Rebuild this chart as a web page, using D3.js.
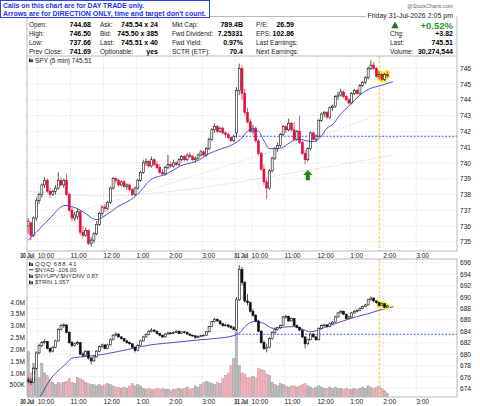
<!DOCTYPE html>
<html lang="en">
<head>
<meta charset="UTF-8">
<title>SPY 5 min</title>
<script src="https://d3js.org/d3.v7.min.js"></script>
<style>
  body { margin: 0; background: #fff; font-family: "Liberation Sans", Arial, sans-serif; }
  svg { display: block; }
  .lbl { font-size: 6.5px; fill: #222; }
  .val { font-size: 7px; font-weight: bold; fill: #000; }
  .axis text { font-size: 6.6px; fill: #222; font-family: "Liberation Sans", Arial, sans-serif; }
  .grid { stroke: #cfcfcf; stroke-width: 0.6; stroke-dasharray: 1.2,1.6; }
  .frame { fill: none; stroke: #a8a8a8; stroke-width: 0.8; }
</style>
</head>
<body>
<script>
// ---- data ----
const dayLabels = ["30 Jul", "31 Jul"];
const hourLabels = ["10:00", "11:00", "12:00", "1:00", "2:00", "3:00"];
const barsPerDay = 78;      // 5 min bars 9:30-4:00
const day1Start = 2;        // first bar visible is 9:40

// SPY [open, high, low, close]
const spyDay1 = [
  [736.0,736.5,735.5,736.3],[736.2,736.3,735.1,735.4],[735.4,736.6,735.3,736.5],[736.5,737.8,736.3,737.6],
  [737.6,738.1,737.4,738.0],[738.0,738.7,737.8,738.6],[738.6,739.1,738.4,738.9],[738.9,739.0,738.1,738.2],
  [738.2,738.4,737.8,738.0],[738.0,738.3,737.9,738.2],[738.2,738.6,738.0,738.4],[738.4,739.4,738.3,738.9],
  [738.9,739.1,738.5,738.6],[738.6,739.0,738.4,738.9],[738.9,739.3,737.9,738.0],[738.0,738.1,736.9,737.0],
  [737.0,737.2,736.3,736.5],[736.5,736.9,736.3,736.7],[736.6,737.1,736.4,736.9],[736.9,737.0,735.4,735.6],
  [735.6,736.0,735.2,735.4],[735.4,735.9,735.3,735.7],[735.7,735.8,734.8,734.9],[734.9,735.3,734.7,735.1],
  [735.1,735.6,734.9,735.5],[735.5,736.3,735.4,736.1],[736.1,736.9,736.0,736.8],[736.8,737.3,736.6,737.2],
  [737.2,737.4,736.9,737.1],[737.1,737.6,737.0,737.5],[737.5,738.5,737.4,738.4],[738.4,739.1,738.3,739.0],
  [739.0,739.1,738.7,738.9],[738.9,739.0,738.5,738.6],[738.6,738.9,738.5,738.8],[738.8,738.9,738.4,738.5],
  [738.5,738.7,738.3,738.6],[738.6,738.7,738.2,738.3],[738.3,738.4,737.9,738.0],[738.0,738.5,737.9,738.4],
  [738.4,739.0,738.3,738.9],[738.9,739.5,738.8,739.4],[739.4,740.2,739.3,740.0],[740.0,740.3,739.8,740.1],
  [740.1,740.2,739.7,739.8],[739.8,740.4,739.7,740.2],[740.2,740.3,739.8,739.9],[739.9,740.1,739.6,739.7],
  [739.7,739.9,739.3,739.4],[739.4,739.6,739.2,739.3],[739.3,739.8,739.2,739.7],[739.7,740.5,739.6,739.9],
  [739.9,740.1,739.7,739.8],[739.8,740.2,739.7,740.0],[740.0,740.1,739.8,739.9],[739.9,740.3,739.8,740.2],
  [740.2,740.5,740.1,740.4],[740.4,740.5,740.1,740.2],[740.2,740.6,740.1,740.5],[740.5,740.7,740.3,740.4],
  [740.4,740.5,740.1,740.2],[740.2,740.4,740.0,740.3],[740.3,740.6,740.2,740.5],[740.5,740.8,740.4,740.7],
  [740.7,740.8,740.4,740.5],[740.5,741.0,740.4,740.9],[740.9,741.6,740.8,741.5],[741.5,742.2,741.4,742.1],
  [742.1,742.5,741.9,742.3],[742.3,742.4,741.9,742.0],[742.0,742.3,741.9,742.2],[742.2,742.3,741.8,741.9],
  [741.9,742.0,741.6,741.8],[741.8,741.9,741.5,741.6],[741.6,741.7,741.3,741.4],[741.4,741.8,741.3,741.69]
];
const spyDay2 = [
  [741.9,744.8,741.6,744.6],[744.6,746.3,744.3,746.0],[746.0,746.2,744.0,744.4],[744.4,744.7,743.0,743.2],
  [743.2,743.5,742.5,742.6],[742.6,742.8,741.9,742.0],[742.0,742.4,741.8,742.2],[742.2,742.3,741.3,741.4],
  [741.4,741.5,740.5,740.6],[740.6,740.7,739.5,739.6],[739.6,739.9,738.6,738.8],[738.8,739.0,737.7,738.4],
  [738.4,739.6,738.3,739.5],[739.5,740.4,739.4,740.3],[740.3,741.0,740.2,740.9],[740.9,741.3,740.7,741.1],
  [741.1,741.9,741.0,741.8],[741.8,742.4,741.7,742.3],[742.3,742.4,741.9,742.1],[742.1,742.8,742.0,742.5],
  [742.5,742.6,742.0,742.1],[742.1,742.6,741.4,741.5],[741.5,742.1,741.4,742.0],[742.0,743.0,741.2,741.3],
  [741.3,741.4,740.5,740.6],[740.6,740.8,739.9,740.2],[740.2,741.0,740.1,740.9],[740.9,742.0,740.8,741.9],
  [741.9,742.0,741.4,741.5],[741.5,741.8,741.3,741.7],[741.7,742.8,741.6,742.7],[742.7,743.2,742.6,743.1],
  [743.1,743.3,742.9,743.2],[743.2,743.3,742.8,742.9],[742.9,743.6,742.8,743.5],[743.5,743.7,743.3,743.6],
  [743.6,744.3,743.5,744.2],[744.2,744.5,744.0,744.3],[744.3,744.7,744.2,744.5],[744.5,744.6,744.1,744.2],
  [744.2,744.3,743.9,744.0],[744.0,744.1,743.7,743.8],[743.8,744.5,743.7,744.4],[744.4,744.7,744.3,744.6],
  [744.6,744.7,744.3,744.4],[744.4,745.0,744.3,744.9],[744.9,745.2,744.8,745.1],[745.1,745.5,745.0,745.4],
  [745.4,746.1,745.3,746.0],[746.0,746.5,745.9,746.2],[746.2,746.4,745.9,746.0],[746.0,746.1,745.4,745.5],
  [745.5,745.8,745.3,745.6],[745.6,745.7,745.2,745.3],[745.3,745.7,745.2,745.6],[745.6,745.8,745.4,745.51]
];

// QQQ [open, high, low, close]
const qqqDay1 = [
  [675.5,676.0,674.8,675.2],[675.2,675.8,674.6,675.0],[675.0,677.8,674.9,677.5],[677.5,680.5,677.3,680.2],
  [680.2,681.8,680.0,681.5],[681.5,682.3,681.2,682.0],[682.0,682.6,681.7,682.2],[682.2,682.3,680.8,681.0],
  [681.0,681.2,680.2,680.5],[680.5,681.4,680.3,681.2],[681.2,682.5,681.0,682.3],[682.3,684.5,682.2,684.3],
  [684.3,685.3,684.1,685.0],[685.0,685.4,684.6,685.1],[685.1,685.2,683.6,683.8],[683.8,684.0,681.8,682.0],
  [682.0,682.3,681.2,681.5],[681.5,682.0,681.3,681.8],[681.8,682.3,681.6,682.0],[682.0,682.1,679.8,680.0],
  [680.0,680.4,679.4,679.8],[679.8,680.7,679.7,680.5],[680.5,680.6,679.0,679.3],[679.3,679.5,678.2,678.8],
  [678.8,679.7,678.6,679.5],[679.5,680.7,679.4,680.5],[680.5,681.5,680.3,681.3],[681.3,681.8,681.0,681.6],
  [681.6,681.7,680.8,681.0],[681.0,681.8,680.9,681.6],[681.6,682.7,681.5,682.5],[682.5,683.5,682.4,683.3],
  [683.3,683.8,683.1,683.5],[683.5,683.6,682.9,683.0],[683.0,683.1,682.5,682.7],[682.7,682.8,682.1,682.3],
  [682.3,682.5,681.8,682.0],[682.0,682.2,681.6,681.8],[681.8,681.9,681.0,681.2],[681.2,681.4,680.3,680.6],
  [680.6,681.7,680.5,681.5],[681.5,682.5,681.4,682.3],[682.3,683.2,682.2,683.0],[683.0,683.6,682.9,683.4],
  [683.4,684.2,683.3,684.0],[684.0,684.5,683.8,684.2],[684.2,684.3,683.8,684.0],[684.0,684.1,683.4,683.6],
  [683.6,683.7,683.1,683.3],[683.3,683.4,682.8,683.0],[683.0,683.7,682.9,683.5],[683.5,683.9,683.4,683.7],
  [683.7,683.8,683.4,683.6],[683.6,684.0,683.5,683.8],[683.8,684.2,683.7,684.0],[684.0,684.1,683.5,683.6],
  [683.6,684.0,683.5,683.9],[683.9,684.0,683.6,683.8],[683.8,683.9,683.4,683.5],[683.5,683.6,683.2,683.3],
  [683.3,683.4,683.0,683.2],[683.2,683.3,682.7,682.9],[682.9,683.3,682.8,683.1],[683.1,683.4,683.0,683.2],
  [683.2,683.5,683.1,683.3],[683.3,684.0,683.2,683.9],[683.9,684.9,683.8,684.8],[684.8,685.8,684.7,685.7],
  [685.7,686.4,685.5,686.1],[686.1,686.2,685.6,685.8],[685.8,685.9,685.1,685.3],[685.3,685.5,684.8,685.0],
  [685.0,685.3,684.8,685.1],[685.1,685.2,684.6,684.8],[684.8,685.1,684.4,684.6],[684.6,684.9,684.2,684.3]
];
const qqqDay2 = [
  [684.3,690.0,684.0,689.5],[689.5,695.6,689.3,694.8],[694.8,695.3,692.0,692.5],[692.5,692.8,689.0,689.3],
  [689.3,690.5,688.5,689.0],[689.0,689.2,687.3,687.5],[687.5,687.9,686.5,686.8],[686.8,687.0,685.6,685.8],
  [685.8,686.0,683.8,684.0],[684.0,684.2,681.8,682.0],[682.0,682.4,680.7,681.0],[681.0,681.8,680.3,681.2],
  [681.2,683.0,681.0,682.7],[682.7,684.0,682.5,683.8],[683.8,684.5,683.6,684.3],[684.3,684.8,684.1,684.6],
  [684.6,685.2,684.4,685.0],[685.0,686.7,684.9,686.5],[686.5,686.9,686.2,686.6],[686.6,686.7,685.6,685.8],
  [685.8,686.4,685.7,686.2],[686.2,686.3,684.9,685.0],[685.0,685.2,684.5,684.7],[684.7,684.8,684.0,684.2],
  [684.2,684.3,682.8,683.0],[683.0,683.1,681.0,681.8],[681.8,682.7,681.6,682.5],[682.5,683.7,682.4,683.5],
  [683.5,683.6,682.9,683.0],[683.0,683.1,682.3,682.5],[682.5,684.7,682.4,684.5],[684.5,685.2,684.4,685.0],
  [685.0,685.3,684.8,685.1],[685.1,685.2,684.6,684.8],[684.8,685.5,684.7,685.3],[685.3,685.8,685.2,685.6],
  [685.6,686.7,685.5,686.5],[686.5,687.4,686.4,687.2],[687.2,687.7,687.1,687.5],[687.5,687.6,686.8,687.0],
  [687.0,687.1,686.0,686.2],[686.2,686.7,686.1,686.5],[686.5,687.4,686.4,687.2],[687.2,687.7,687.1,687.5],
  [687.5,687.8,687.3,687.6],[687.6,688.2,687.5,688.0],[688.0,688.5,687.9,688.3],[688.3,688.8,688.2,688.6],
  [688.6,689.7,688.5,689.5],[689.5,690.1,689.4,689.8],[689.8,689.9,689.1,689.3],[689.3,689.4,688.8,689.0],
  [689.0,689.1,688.3,688.5],[688.5,689.0,688.4,688.8],[688.8,688.9,688.0,688.2],[688.2,688.6,688.1,688.41]
];

// volume, millions of shares
const volDay1 = [1.9,1.0,1.4,1.2,0.8,1.4,1.0,0.9,0.7,0.6, 0.5,0.6,0.55,0.6,0.65,0.75,0.6,0.55,0.8,0.75,
  0.7,0.6,0.55,0.5,0.5,0.45,0.5,0.45,0.5,0.55, 0.5,0.45,0.4,0.4,0.35,0.4,0.35,0.45,0.55,0.45,
  0.5,0.45,0.35,0.3,0.35,0.3,0.3,0.35,0.3,0.35, 0.3,0.3,0.25,0.3,0.3,0.35,0.3,0.35,0.4,0.3,
  0.35,0.45,0.4,0.5,0.6,0.65,0.6,0.55,0.5,0.6, 0.55,0.75,0.9,1.0,1.3,1.6];
const volDay2 = [3.95,1.3,1.0,0.95,0.8,0.8,0.85,0.8,1.2,1.15, 1.1,0.95,0.9,0.6,0.5,0.45,0.55,0.5,0.45,0.4,
  0.45,0.45,0.4,0.45,0.5,0.55,0.45,0.4,0.35,0.4, 0.45,0.4,0.35,0.35,0.4,0.35,0.4,0.35,0.35,0.3,
  0.35,0.3,0.3,0.35,0.3,0.35,0.4,0.35,0.45,0.4, 0.35,0.4,0.45,0.35,0.25,0.15];

// overlay lines as [bar index, value]
const spyMA = [[2.5,735.1],[5.5,735.6],[10.5,736.5],[16,737.3],[19,737.2],[22.5,736.9],[27.5,736.4],[31,736.7],
  [35,737.2],[41,737.8],[43.5,738.2],[47,738.9],[53,739.3],[58,739.8],[65,740.2],[67.5,740.5],[71.5,740.8],
  [77.5,741.2],[80,741.5],[83.5,742.1],[86.5,742.0],[88.5,741.4],[90.5,740.9],[93,740.9],[95.5,741.0],
  [99,741.4],[101.5,741.5],[104,741.4],[106.5,741.35],[109,741.6],[111.5,742.2],[114,742.5],[116,743.0],
  [120,743.7],[123.5,744.3],[127,744.7],[131,744.9],[135.5,745.15]];
const spySlowMA = [[2.5,736.0],[20,736.9],[40,737.9],[60,739.0],[80,740.1],[100,741.2],[120,742.4],[135.5,743.4]];
const spyLongMA = [[2.5,738.2],[30,737.9],[55,738.2],[80,738.8],[100,739.4],[120,740.0],[135.5,740.5]];
const qqqMA = [[5,671.5],[7.2,672.8],[10.5,675.5],[16.6,678.4],[18.4,679.25],[22.6,679.55],[28.7,679.85],
  [34.8,680.4],[40.9,681.0],[47,681.6],[53,681.9],[59,682.2],[65.2,682.5],[71.3,682.75],[77.3,683.2],
  [79.8,683.8],[82.2,685.1],[85.2,685.7],[88.3,685.4],[91.9,684.5],[95.6,684.7],[99.2,684.8],[102.9,684.3],
  [105.3,683.9],[108.3,684.2],[111.4,684.8],[115,685.4],[118.7,686.0],[122.3,686.55],[126,687.0],
  [130.8,687.7],[135.7,688.3]];

const spyPrevClose = 741.69;
const qqqRefLine = 683.46;
const markerBar = 130.6;               // yellow dashed time marker
const highlightFrom = 52;              // day 2 bars highlighted in yellow
const arrow = { bar: 104, top: 739.55, bottom: 738.9 };

const noteLines = ["Calls on this chart are for DAY TRADE only.", "Arrows are for DIRECTION ONLY, time and target don't count."];
const infoCol1 = [["Open:", "744.68"], ["High:", "746.50"], ["Low:", "737.66"], ["Prev Close:", "741.69"]];
const infoCol2 = [["Ask:", "745.54 x 24"], ["Bid:", "745.50 x 385"], ["Last:", "745.51 x 40"], ["Optionable:", "yes"]];
const infoCol3 = [["Mkt Cap:", "789.4B"], ["Fwd Dividend:", "7.25331"], ["Fwd Yield:", "0.97%"], ["SCTR (ETF):", "70.4"]];
const infoCol4 = [["P/E:", "26.59"], ["EPS:", "102.86"], ["Last Earnings:", ""], ["Next Earnings:", ""]];
const quoteRows = [["Chg:", "+3.82"], ["Last:", "745.51"], ["Volume:", "30,274,544"]];

// ---- layout ----
const L = 27, R = 457;
const mainTop = 56, mainBot = 251, lowTop = 259, lowBot = 397;

const svg = d3.select("body").append("svg").attr("width", 480).attr("height", 406);

const x = d3.scaleLinear().domain([2.1, 158.9]).range([L, R]);
const yS = d3.scaleLinear().domain([735, 746]).range([241.7, 68.3]);
const yQ = d3.scaleLinear().domain([674, 696]).range([388.3, 262.7]);
const yV = d3.scaleLinear().domain([0, 4]).range([396.5, 302]);

function toBars(d1, d2) {
  return d1.map((d, i) => ({ k: day1Start + i, o: d[0], h: d[1], l: d[2], c: d[3] }))
    .concat(d2.map((d, j) => ({ k: barsPerDay + j, day2: j, o: d[0], h: d[1], l: d[2], c: d[3] })));
}
const spy = toBars(spyDay1, spyDay2);
const qqq = toBars(qqqDay1, qqqDay2);
const vol = volDay1.map((v, i) => ({ k: day1Start + i, v }))
  .concat(volDay2.map((v, j) => ({ k: barsPerDay + j, v })));
vol.forEach((d, i) => d.down = spy[i].c < spy[i].o);

const hourTicks = [];
const tickText = [];
[0, 1].forEach(day => {
  hourTicks.push(day * barsPerDay); tickText.push(dayLabels[day]);
  hourLabels.forEach((h, n) => { hourTicks.push(day * barsPerDay + 6 + n * 12); tickText.push(h); });
});

const defs = svg.append("defs");
defs.append("clipPath").attr("id", "clipMain").append("rect")
  .attr("x", L).attr("y", mainTop).attr("width", R - L).attr("height", mainBot - mainTop);
defs.append("clipPath").attr("id", "clipLow").append("rect")
  .attr("x", L).attr("y", lowTop).attr("width", R - L).attr("height", lowBot - lowTop);

// ---- header ----
const head = svg.append("g");
head.append("line").attr("x1", L).attr("x2", 366).attr("y1", 16.5).attr("y2", 16.5).attr("stroke", "#a8a8a8").attr("stroke-width", 0.8);
head.append("line").attr("x1", L).attr("x2", L).attr("y1", 16.5).attr("y2", mainTop).attr("stroke", "#a8a8a8").attr("stroke-width", 0.8);
head.append("line").attr("x1", R).attr("x2", R).attr("y1", 16.5).attr("y2", mainTop).attr("stroke", "#a8a8a8").attr("stroke-width", 0.8);

const rowsY = [27.3, 36.2, 45.2, 54.1];
function infoColumn(rows, lx, vx, anchor) {
  rows.forEach((r, i) => {
    head.append("text").attr("class", "lbl").attr("x", lx).attr("y", rowsY[i]).text(r[0]);
    head.append("text").attr("class", "val").attr("x", vx).attr("y", rowsY[i]).attr("text-anchor", anchor).text(r[1]);
  });
}
infoColumn(infoCol1, 29, 91, "end");
infoColumn(infoCol2, 100, 158, "end");
infoColumn(infoCol3, 172, 243, "end");
infoColumn(infoCol4, 256, 294, "end");

head.append("text").attr("x", 453).attr("y", 7.6).attr("text-anchor", "end")
  .attr("font-size", 5.3).attr("fill", "#666").text("@StockCharts.com");
head.append("text").attr("x", 453).attr("y", 18.3).attr("text-anchor", "end")
  .attr("font-size", 7).attr("fill", "#222").text("Friday 31-Jul-2026 2:05 pm");
head.append("path").attr("d", "M395,21.6 L398.6,28.3 L391.4,28.3 Z").attr("fill", "#1a7a1a");
head.append("text").attr("x", 453).attr("y", 28.6).attr("text-anchor", "end")
  .attr("font-size", 9.5).attr("font-weight", "bold").attr("fill", "#1f9a1f").text("+0.52%");
quoteRows.forEach((r, i) => {
  head.append("text").attr("class", "lbl").attr("x", 390).attr("y", rowsY[i + 1]).text(r[0]);
  head.append("text").attr("class", "val").attr("x", 453).attr("y", rowsY[i + 1])
    .attr("text-anchor", "end").text(r[1]);
});

// blue note box
head.append("rect").attr("x", 0.5).attr("y", 0.5).attr("width", 209).attr("height", 17)
  .attr("fill", "#fff").attr("stroke", "#2a44e0").attr("stroke-width", 1);
head.selectAll(".note").data(noteLines).enter().append("text")
  .attr("x", 3).attr("y", (d, i) => 7.9 + i * 7.6)
  .attr("font-size", 7).attr("font-weight", "bold").attr("fill", "#2233dd")
  .attr("textLength", (d, i) => i ? 203 : 141).attr("lengthAdjust", "spacingAndGlyphs")
  .text(d => d);

// ---- shared helpers ----
function grid(g, yScale, yTicks, top, bot) {
  g.selectAll(".hg").data(yTicks).enter().append("line").attr("class", "grid")
    .attr("x1", L).attr("x2", R).attr("y1", d => yScale(d)).attr("y2", d => yScale(d));
  g.selectAll(".vg").data(hourTicks).enter().append("line").attr("class", "grid")
    .attr("x1", d => x(d)).attr("x2", d => x(d)).attr("y1", top).attr("y2", bot);
}
function candles(g, bars, yScale, upStroke, downFill) {
  const hl = g.append("g");
  hl.selectAll("rect").data(bars.filter(d => d.day2 >= highlightFrom)).enter().append("rect")
    .attr("x", d => x(d.k + 0.5) - 2.4).attr("width", 4.8)
    .attr("y", d => yScale(d.h) - 1.5).attr("height", d => yScale(d.l) - yScale(d.h) + 3)
    .attr("rx", 1.5).attr("fill", "#f6ec3a");
  const c = g.append("g").selectAll("g").data(bars).enter().append("g");
  c.append("line")
    .attr("x1", d => x(d.k + 0.5)).attr("x2", d => x(d.k + 0.5))
    .attr("y1", d => yScale(d.h)).attr("y2", d => yScale(d.l))
    .attr("stroke", d => d.c < d.o ? downFill : upStroke).attr("stroke-width", 0.7);
  c.append("rect")
    .attr("x", d => x(d.k + 0.5) - 1).attr("width", 2)
    .attr("y", d => yScale(Math.max(d.o, d.c)))
    .attr("height", d => Math.max(0.8, Math.abs(yScale(d.o) - yScale(d.c))))
    .attr("fill", d => d.c < d.o ? downFill : "#fff")
    .attr("stroke", d => d.c < d.o ? downFill : upStroke).attr("stroke-width", 0.6);
}
function overlay(g, pts, yScale, color, width, dash) {
  g.append("path").datum(pts)
    .attr("d", d3.line().x(d => x(d[0])).y(d => yScale(d[1])).curve(d3.curveMonotoneX))
    .attr("fill", "none").attr("stroke", color).attr("stroke-width", width)
    .attr("stroke-dasharray", dash);
}
function dashedLevel(g, v, yScale) {
  g.append("line").attr("x1", x(barsPerDay)).attr("x2", R)
    .attr("y1", yScale(v)).attr("y2", yScale(v))
    .attr("stroke", "#3344ee").attr("stroke-width", 0.9).attr("stroke-dasharray", "2,1.5");
}
function marker(g, top, bot) {
  g.append("line").attr("x1", x(markerBar)).attr("x2", x(markerBar)).attr("y1", top).attr("y2", bot)
    .attr("stroke", "#f7d776").attr("stroke-width", 1.6).attr("stroke-dasharray", "3,1.5");
}
function timeAxis(yPos) {
  const ax = svg.append("g").attr("class", "axis").attr("transform", `translate(0,${yPos})`)
    .call(d3.axisBottom(x).tickValues(hourTicks).tickFormat((d, i) => tickText[i]).tickSize(0).tickPadding(2));
  ax.select(".domain").remove();
  ax.selectAll("text").attr("text-anchor", "start")
    .attr("dx", (d, i) => tickText[i].includes("Jul") ? -1.5 : -0.5)
    .attr("font-weight", (d, i) => tickText[i].includes("Jul") ? "bold" : null)
    .attr("textLength", (d, i) => tickText[i].includes("Jul") ? 14 : null)
    .attr("lengthAdjust", "spacingAndGlyphs");
}

// ---- main panel (SPY) ----
const main = svg.append("g").attr("clip-path", "url(#clipMain)");
grid(main, yS, d3.range(735, 747), mainTop, mainBot);
overlay(main, spyLongMA, yS, "#b9c2b0", 0.8, "1,1.5");
overlay(main, spySlowMA, yS, "#f0b4bc", 0.8, "1,1.5");
dashedLevel(main, spyPrevClose, yS);
marker(main, mainTop, mainBot);
candles(main, spy, yS, "#111", "#e0123c");
overlay(main, spyMA, yS, "#3a3ad0", 0.9, null);

const ax = x(arrow.bar + 0.5), at = yS(arrow.top), ab = yS(arrow.bottom), am = at + 5;
main.append("path").attr("fill", "#148a14")
  .attr("d", `M${ax},${at} L${ax + 4.6},${am} L${ax + 2},${am} L${ax + 2},${ab} L${ax - 2},${ab} L${ax - 2},${am} L${ax - 4.6},${am} Z`);

svg.append("rect").attr("class", "frame").attr("x", L).attr("y", mainTop).attr("width", R - L).attr("height", mainBot - mainTop);
svg.append("rect").attr("x", 29).attr("y", 58.6).attr("width", 1.6).attr("height", 3.6).attr("fill", "#111");
svg.append("rect").attr("x", 31.2).attr("y", 59.4).attr("width", 1.6).attr("height", 2.8).attr("fill", "#111");
svg.append("text").attr("x", 35).attr("y", 62.8).attr("font-size", 6.5).attr("fill", "#222").text("SPY (5 min) 745.51");

svg.append("g").attr("class", "axis").attr("transform", `translate(${R},0)`)
  .call(d3.axisRight(yS).tickValues(d3.range(735, 747)).tickFormat(d3.format("d")).tickSize(0).tickPadding(3))
  .call(g => g.select(".domain").remove());
timeAxis(mainBot);

// ---- lower panel (QQQ + volume) ----
const low = svg.append("g").attr("clip-path", "url(#clipLow)");
grid(low, yQ, d3.range(674, 697, 2), lowTop, lowBot);
low.append("g").selectAll("rect").data(vol).enter().append("rect")
  .attr("x", d => x(d.k) + 0.2).attr("width", x(1) - x(0) - 0.4)
  .attr("y", d => yV(d.v)).attr("height", d => yV(0) - yV(d.v))
  .attr("fill", d => d.down ? "#efb3bb" : "#bdbdbd")
  .attr("stroke", d => d.down ? "#d88994" : "#8f8f8f").attr("stroke-width", 0.4);
dashedLevel(low, qqqRefLine, yQ);
marker(low, lowTop, lowBot);
overlay(low, qqqMA, yQ, "#3a3ad0", 0.9, null);
candles(low, qqq, yQ, "#111", "#111");

svg.append("rect").attr("class", "frame").attr("x", L).attr("y", lowTop).attr("width", R - L).attr("height", lowBot - lowTop);

const legend = [
  { y: 266, text: "QQQ 688.41", spacing: 0.8 },
  { y: 271.8, text: "$NYAD -106.00", spacing: 0 },
  { y: 278, text: "$NYUPV:$NYDNV 0.87", spacing: 0 },
  { y: 284.3, text: "$TRIN 1.057", spacing: 0 }
];
legend.forEach((d, i) => {
  svg.append("text").attr("x", 35).attr("y", d.y).attr("font-size", 6).attr("fill", "#333")
    .attr("letter-spacing", d.spacing).text(d.text);
  if (i === 1) {
    svg.append("line").attr("x1", 29).attr("x2", 33.5).attr("y1", d.y - 2).attr("y2", d.y - 2).attr("stroke", "#222").attr("stroke-width", 0.9);
  } else {
    svg.append("rect").attr("x", 29).attr("y", d.y - 3.8).attr("width", 1.6).attr("height", 3.8).attr("fill", "#222");
    svg.append("rect").attr("x", 31.3).attr("y", d.y - 2.8).attr("width", 1.6).attr("height", 2.8).attr("fill", "#222");
  }
});

svg.append("g").attr("class", "axis").attr("transform", `translate(${R},0)`)
  .call(d3.axisRight(yQ).tickValues(d3.range(674, 697, 2)).tickFormat(d3.format("d")).tickSize(0).tickPadding(3))
  .call(g => g.select(".domain").remove());
svg.append("g").attr("class", "axis").attr("transform", `translate(${L},0)`)
  .call(d3.axisLeft(yV).tickValues(d3.range(0.5, 4.01, 0.5))
    .tickFormat(d => d < 1 ? Math.round(d * 1000) + "K" : d.toFixed(1) + "M").tickSize(0).tickPadding(2))
  .call(g => g.select(".domain").remove());
timeAxis(lowBot);
</script>
</body>
</html>
